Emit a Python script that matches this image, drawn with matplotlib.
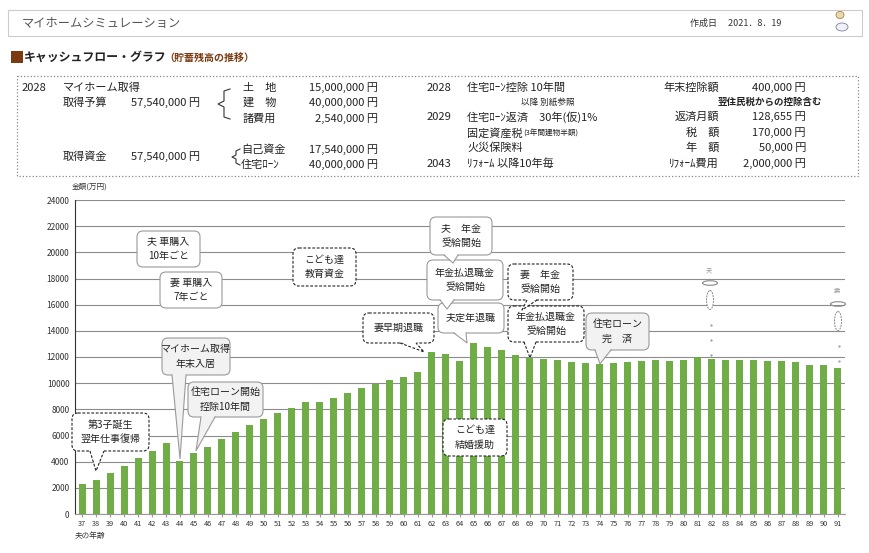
import matplotlib
matplotlib.use('Agg')
import matplotlib.pyplot as plt
from matplotlib.patches import FancyBboxPatch, Polygon, Rectangle, Ellipse

plt.rcParams['font.family'] = ['Noto Sans CJK JP', 'DejaVu Sans']

# ---------------- data ----------------
ages = list(range(37, 92))
balance = [2300, 2600, 3150, 3700, 4300, 4850, 5450, 4070, 4680, 5140,
           5750, 6290, 6820, 7280, 7740, 8120, 8580, 8580, 8880, 9260,
           9650, 9950, 10260, 10490, 10870, 12390, 12240, 11710, 13080, 12780,
           12550, 12170, 11940, 11860, 11780, 11630, 11550, 11480, 11550, 11630,
           11710, 11780, 11710, 11780, 12010, 11860, 11780, 11780, 11780, 11710,
           11710, 11630, 11400, 11400, 11170]
yticks = list(range(0, 24001, 2000))

W, H = 870, 553
fig = plt.figure(figsize=(W / 100, H / 100), dpi=100)
fig.patch.set_facecolor('white')

# ---------------- chart ----------------
L, R, T, B = 75, 845, 200, 514
ax = fig.add_axes([L / W, (H - B) / H, (R - L) / W, (B - T) / H])
x = list(range(len(ages)))
ax.bar(x, balance, width=0.5, color='#70AD47', zorder=3)
ax.set_xlim(-0.5, len(ages) - 0.5)
ax.set_ylim(0, 24000)
ax.set_yticks(yticks)
ax.set_yticklabels([str(v) for v in yticks], fontsize=6, color='#333333')
ax.set_xticks(x)
ax.set_xticklabels([str(a) for a in ages], fontsize=5.3, color='#333333')
ax.yaxis.grid(True, color='#8c8c8c', lw=0.8, zorder=0)
ax.set_axisbelow(True)
for s in ['top', 'right']:
    ax.spines[s].set_visible(False)
ax.spines['left'].set_color('#333333')
ax.spines['left'].set_linewidth(0.8)
ax.spines['bottom'].set_color('#999999')
ax.spines['bottom'].set_linewidth(0.8)
ax.tick_params(axis='y', length=0, pad=4)
ax.tick_params(axis='x', length=2, pad=2, color='#999999')

# ---------------- overlay in pixel coordinates ----------------
ov = fig.add_axes([0, 0, 1, 1], zorder=5)
ov.set_xlim(0, W)
ov.set_ylim(H, 0)
ov.axis('off')
ov.patch.set_alpha(0)


def dpx(age, val):
    d = ax.transData.transform((ages.index(age), val))
    return d[0], H - d[1]


ov.text(72, 187, '金額(万円)', fontsize=5.5, color='#333333', va='center')
ov.text(75, 536, '夫の年齢', fontsize=5.5, color='#333333', va='center')

# header
ov.add_patch(Rectangle((8, 10), 854, 26, fc='white', ec='#cccccc', lw=0.8))
ov.text(22, 23, 'マイホームシミュレーション', fontsize=8.8, color='#555555', va='center')
ov.text(690, 23, '作成日　 2021．8．19', fontsize=6.5, color='#333333', va='center')
# small mascot-ish mark
ov.add_patch(Ellipse((840, 15), 8, 7, fc='#e8d9b0', ec='#b08040', lw=0.6))
ov.add_patch(Ellipse((842, 27), 12, 8, fc='#f0f0f8', ec='#8080a0', lw=0.6))

# section title
ov.add_patch(Rectangle((11, 51), 12, 12, fc='#7b3a12', ec='none'))
ov.text(24, 57, 'キャッシュフロー・グラフ', fontsize=8.6, fontweight='bold', color='#222222', va='center')
ov.text(164, 58, '（貯蓄残高の推移）', fontsize=7.2, fontweight='bold', color='#7b3a12', va='center')

# info box
ov.add_patch(Rectangle((17, 76), 841, 100, fc='none', ec='#888888', lw=0.9, ls=':'))
fs = 8
c = '#222222'
lt = [(22, 88, '2028'), (63, 88, 'マイホーム取得'), (63, 103, '取得予算'),
      (243, 88, '土　地'), (243, 103, '建　物'), (243, 119, '諸費用'),
      (63, 157, '取得資金'), (241, 150, '自己資金'), (241, 165, '住宅ﾛｰﾝ'),
      (427, 88, '2028'), (467, 88, '住宅ﾛｰﾝ控除 10年間'),
      (427, 117, '2029'), (467, 117, '住宅ﾛｰﾝ返済　30年(仮)1%'),
      (467, 133, '固定資産税'), (467, 148, '火災保険料'),
      (427, 164, '2043'), (467, 164, 'ﾘﾌｫｰﾑ 以降10年毎')]
for xx, yy, t in lt:
    ov.text(xx, yy, t, fontsize=fs, color=c, va='center')
ov.text(523, 134, '(3年間建物半額)', fontsize=5.5, color=c, va='center')
ov.text(521, 102, '以降 別紙参照', fontsize=6.2, color=c, va='center')
rt = [(200, 103, '57,540,000 円'), (378, 88, '15,000,000 円'), (378, 103, '40,000,000 円'),
      (378, 119, '2,540,000 円'), (200, 157, '57,540,000 円'), (378, 150, '17,540,000 円'),
      (378, 165, '40,000,000 円'),
      (719, 88, '年末控除額'), (719, 117, '返済月額'), (719, 133, '税　額'),
      (719, 148, '年　額'), (719, 164, 'ﾘﾌｫｰﾑ費用'),
      (806, 88, '400,000 円'), (806, 117, '128,655 円'), (806, 133, '170,000 円'),
      (806, 148, '50,000 円'), (806, 164, '2,000,000 円')]
for xx, yy, t in rt:
    ov.text(xx, yy, t, fontsize=fs, color=c, va='center', ha='right')
ov.text(822, 102, '翌住民税からの控除含む', fontsize=6.8, fontweight='bold', color=c,
        va='center', ha='right')
ov.plot([230, 224, 224, 218, 224, 224, 230], [89, 91, 101, 104, 107, 117, 119], color='#333333', lw=0.8)
ov.plot([240, 236, 236, 232, 236, 236, 240], [149, 151, 155, 157, 159, 163, 165], color='#333333', lw=0.8)


# ---------------- callouts ----------------
def bubble(x0, y0, x1, y1, text, style='solid', fill='white', tail=None, fs=7.2, z=10):
    ls = (0, (2.5, 1.5)) if style == 'dashed' else '-'
    ec = '#222222' if style == 'dashed' else '#9a9a9a'
    ov.add_patch(FancyBboxPatch((x0, y0), x1 - x0, y1 - y0,
                                boxstyle='round,pad=0,rounding_size=6',
                                fc=fill, ec=ec, lw=0.8, ls=ls, zorder=z))
    if tail is not None:
        b1, b2, tx, ty = tail
        ov.add_patch(Polygon([(b1, y1 - 1.3), (tx, ty), (b2, y1 - 1.3)], closed=True,
                             fc=fill, ec='none', zorder=z + 0.1))
        ov.plot([b1, tx, b2], [y1, ty, y1], color=ec, lw=0.8, ls=ls, zorder=z + 0.2)
    ov.text((x0 + x1) / 2, (y0 + y1) / 2, text, ha='center', va='center', fontsize=fs,
            linespacing=1.55, color='#222222', zorder=z + 0.3)


gfill = '#f2f2f2'
bubble(137, 231, 200, 267, '夫 車購入\n10年ごと', 'solid', 'white')
bubble(160, 272, 222, 308, '妻 車購入\n7年ごと', 'solid', 'white')
bubble(293, 248, 356, 286, 'こども達\n教育資金', 'dashed', 'white')
tx, ty = dpx(62, balance[ages.index(62)])
bubble(363, 313, 434, 343, '妻早期退職', 'dashed', 'white', tail=(400, 416, tx - 8, ty))
bubble(430, 217, 492, 255, '夫　年金\n受給開始', 'solid', 'white', tail=(444, 458, 453, 263), z=12)
bubble(427, 260, 503, 300, '年金払退職金\n受給開始', 'solid', 'white', tail=(440, 454, 447, 309), z=11)
tx, ty = dpx(65, balance[ages.index(65)])
bubble(438, 303, 504, 333, '夫定年退職', 'solid', 'white', tail=(454, 466, tx - 7, ty), z=10)
bubble(508, 264, 573, 300, '妻　年金\n受給開始', 'dashed', 'white', tail=(527, 537, 522, 310), z=12)
tx, ty = dpx(69, balance[ages.index(69)])
bubble(508, 306, 584, 342, '年金払退職金\n受給開始', 'dashed', 'white', tail=(524, 536, tx, ty), z=11)
tx, ty = dpx(74, balance[ages.index(74)])
bubble(586, 313, 649, 350, '住宅ローン\n完　済', 'solid', gfill, tail=(595, 611, tx, ty))
tx, ty = dpx(44, balance[ages.index(44)])
bubble(162, 338, 230, 375, 'マイホーム取得\n年末入居', 'solid', gfill, tail=(172, 186, tx, ty - 2))
tx, ty = dpx(45, balance[ages.index(45)])
bubble(188, 382, 263, 417, '住宅ローン開始\n控除10年間', 'solid', gfill, tail=(201, 215, tx + 2, ty - 2))
tx, ty = dpx(38, balance[ages.index(38)])
bubble(72, 413, 149, 451, '第3子誕生\n翌年仕事復帰', 'dashed', 'white', tail=(90, 104, tx, ty - 9))
bubble(443, 419, 507, 456, 'こども達\n結婚援助', 'dashed', 'white')

# angel marks
for (cx, top, lab) in [(710, 270, '夫'), (838, 291, '妻')]:
    ov.text(cx - 1, top, lab, fontsize=4.5, color='#999999', ha='center', va='center', zorder=9)
    ov.add_patch(Ellipse((cx, top + 13), 15, 4.5, fc='none', ec='#888888', lw=0.8, zorder=9))
    ov.add_patch(Ellipse((cx, top + 30), 7, 19, fc='white', ec='#888888', lw=0.7,
                         ls=(0, (2, 1)), zorder=9))
    for dy in (55, 70, 85):
        ov.plot([cx + 1], [top + dy], marker='.', ms=1.2, color='#999999', zorder=9)

fig.savefig('out.png', dpi=100)
